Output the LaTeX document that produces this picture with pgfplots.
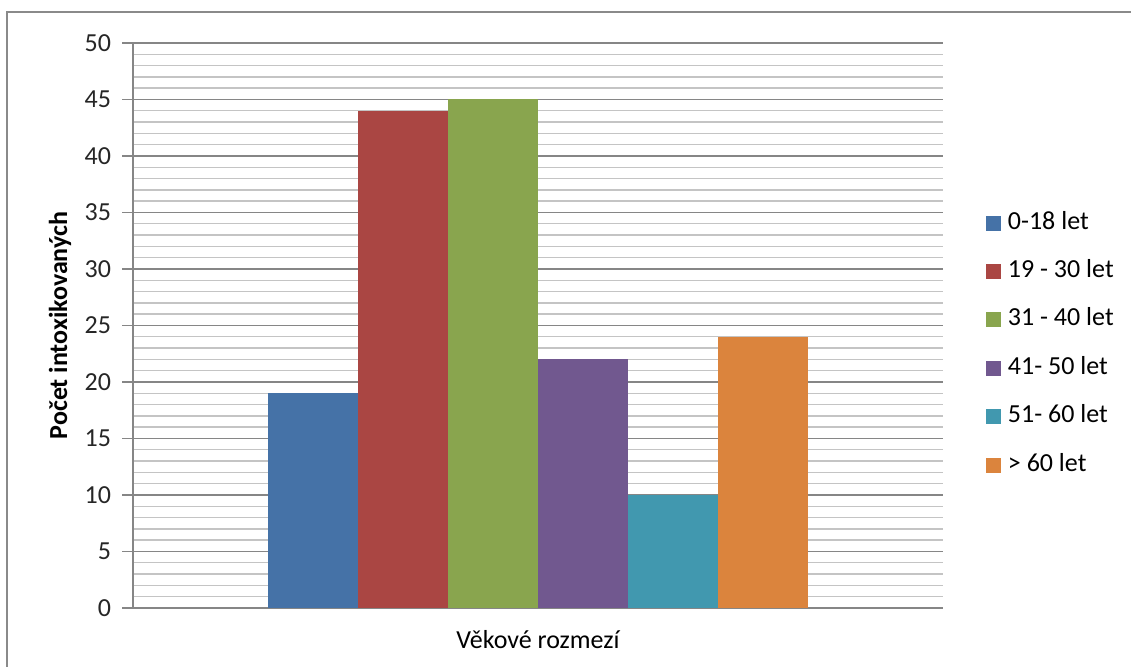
\documentclass[border=0pt]{standalone}
\usepackage{fontspec}
\setmainfont{Carlito}
\usepackage{pgfplots}
\pgfplotsset{compat=1.18}
\definecolor{cA}{HTML}{4572A7}
\definecolor{cB}{HTML}{AA4643}
\definecolor{cC}{HTML}{89A54E}
\definecolor{cD}{HTML}{71588F}
\definecolor{cE}{HTML}{4198AF}
\definecolor{cF}{HTML}{DB843D}
\definecolor{gmaj}{HTML}{868686}
\definecolor{gmin}{HTML}{C4C4C4}
\definecolor{frame}{HTML}{8A8A8A}
\newcommand{\cf}{\fontsize{13}{15.6}\selectfont}
\begin{document}
\begin{tikzpicture}
\useasboundingbox (0,0) rectangle (565.5pt,333.5pt);
\draw[color=frame, line width=1.1pt] (3.5pt,-2pt) -- (3.5pt,327.4pt) -- (568pt,327.4pt);
\begin{axis}[
  at={(66.5pt,29.5pt)}, anchor=south west,
  width=405pt, height=282.5pt, scale only axis,
  xmin=-4.5, xmax=4.5, ymin=0, ymax=50,
  ybar, bar width=1,
  xtick=\empty,
  ytick={0,5,...,50},
  minor y tick num=4,
  ymajorgrids, yminorgrids,
  major grid style={color=gmaj, line width=0.7pt},
  minor grid style={color=gmin, line width=0.7pt},
  axis lines=left,
  axis line style={-, color=gmaj, line width=0.8pt},
  tick align=outside,
  major tick length=5.5pt, minor tick length=0pt,
  ytick style={color=gmaj, line width=0.7pt},
  /pgf/number format/assume math mode=true,
  yticklabel style={font=\cf, text=black!85, xshift=-2pt},
  ylabel={\bfseries Počet intoxikovaných},
  ylabel style={at={(axis description cs:-0.0901,0.5)}, anchor=center, font=\cf},
  xlabel={Věkové rozmezí},
  xlabel style={at={(axis description cs:0.5,-0.0566)}, anchor=center, font=\cf},
  legend image code/.code={\fill[#1] (0pt,-3.75pt) rectangle (7.5pt,3.75pt);},
  legend style={draw=none, font=\cf, at={(rel axis cs:1.0530,0.7025)}, anchor=north west,
    row sep=12.2pt, inner sep=0pt, outer sep=0pt,
    nodes={text height=9pt, text depth=3pt, inner sep=0pt, anchor=west},
    /tikz/every odd column/.append style={column sep=3.5pt}},
  legend cell align=left,
]
\addplot[fill=cA, draw=none, bar shift=0pt] coordinates {(-2.5,19)};
\addplot[fill=cB, draw=none, bar shift=0pt] coordinates {(-1.5,44)};
\addplot[fill=cC, draw=none, bar shift=0pt] coordinates {(-0.5,45)};
\addplot[fill=cD, draw=none, bar shift=0pt] coordinates {(0.5,22)};
\addplot[fill=cE, draw=none, bar shift=0pt] coordinates {(1.5,10)};
\addplot[fill=cF, draw=none, bar shift=0pt] coordinates {(2.5,24)};
\legend{0-18 let, 19 - 30 let, 31 - 40 let, 41- 50 let, 51- 60 let, > 60 let}
\end{axis}
\end{tikzpicture}
\end{document}
